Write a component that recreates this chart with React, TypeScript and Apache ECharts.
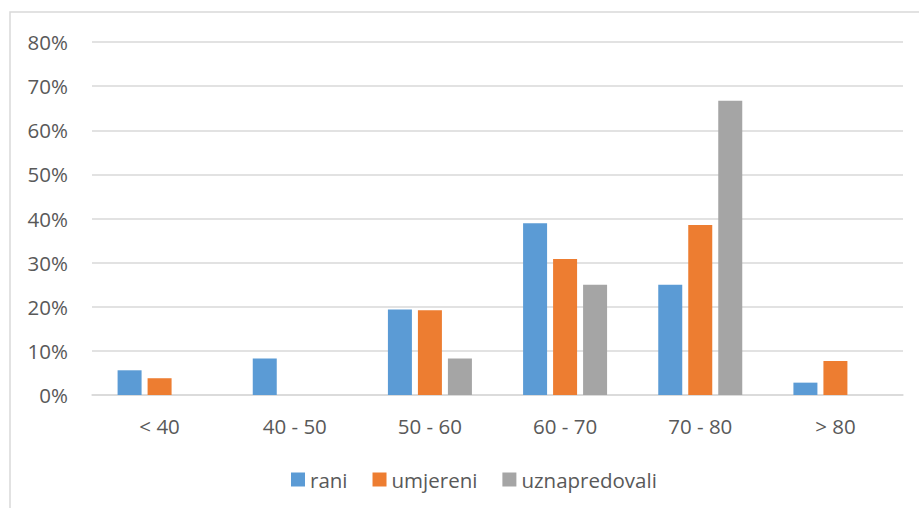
import React, { useEffect, useRef } from "react";
import * as echarts from "echarts";

const categories = ["< 40", "40 - 50", "50 - 60", "60 - 70", "70 - 80", "> 80"];
const seriesNames = ["rani", "umjereni", "uznapredovali"];
const rani = [0.056, 0.083, 0.194, 0.389, 0.25, 0.028];
const umjereni = [0.038, 0, 0.192, 0.308, 0.385, 0.077];
const uznapredovali = [0, 0, 0.083, 0.25, 0.667, 0];
const yTicks = { min: 0, max: 0.8, interval: 0.1 };
const colors = ["#5B9BD5", "#ED7D31", "#A5A5A5"];

const FONT = "'Open Sans', 'Liberation Sans', sans-serif";
const TEXT = "#595959";
const FS = 20.5;

export default function App() {
  const ref = useRef<HTMLDivElement>(null);
  useEffect(() => {
    if (!ref.current) return;
    const chart = echarts.init(ref.current, null, { renderer: "svg" });
    const data = [rani, umjereni, uznapredovali];
    chart.setOption({
      animation: false,
      backgroundColor: "#ffffff",
      textStyle: { fontFamily: FONT },
      graphic: [
        {
          type: "rect",
          shape: { x: 10, y: 12, width: 940, height: 540 },
          style: { fill: "none", stroke: "#d9d9d9", lineWidth: 1.5 },
          silent: true,
        },
      ],
      grid: { left: 92, right: 16, top: 42, bottom: 113, containLabel: false },
      legend: {
        top: 464,
        left: 286,
        itemWidth: 14,
        itemHeight: 14,
        itemGap: 25,
        icon: "rect",
        textStyle: { fontSize: FS, color: TEXT, fontFamily: FONT },
        data: seriesNames,
      },
      xAxis: {
        type: "category",
        data: categories,
        axisLine: { show: true, lineStyle: { color: "#d9d9d9", width: 1.5 } },
        axisTick: { show: false },
        axisLabel: { fontSize: FS, color: TEXT, margin: 20, fontFamily: FONT },
      },
      yAxis: {
        type: "value",
        min: yTicks.min,
        max: yTicks.max,
        interval: yTicks.interval,
        axisLine: { show: false },
        axisTick: { show: false },
        splitLine: { lineStyle: { color: "#d9d9d9", width: 1.5 } },
        axisLabel: {
          fontSize: FS,
          color: TEXT,
          margin: 24,
          fontFamily: FONT,
          formatter: (v: number) => Math.round(v * 100) + "%",
        },
      },
      series: seriesNames.map((name, i) => ({
        name,
        type: "bar",
        data: data[i],
        barWidth: 24,
        barGap: "25%",
        itemStyle: { color: colors[i] },
      })),
    });
    return () => chart.dispose();
  }, []);
  return (
    <div
      ref={ref}
      style={{ position: "fixed", left: 0, top: 0, width: 919, height: 508 }}
    />
  );
}
